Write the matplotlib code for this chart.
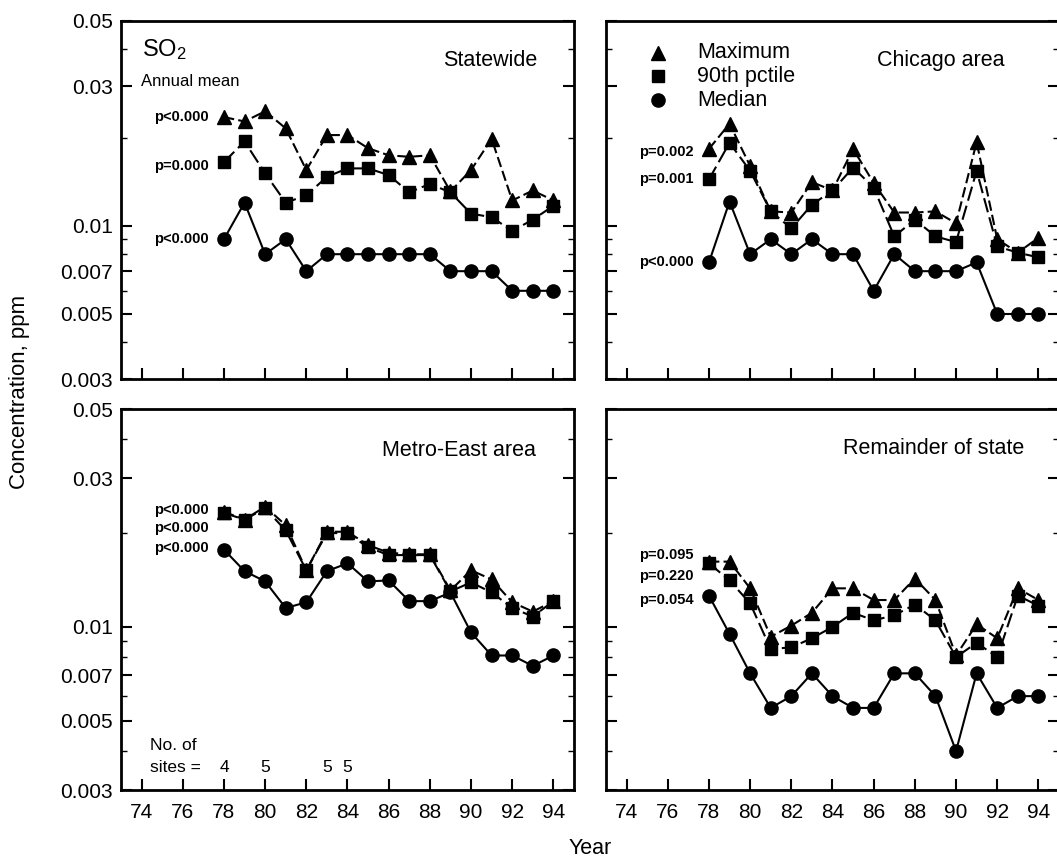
import matplotlib
matplotlib.use('agg')
import matplotlib.pyplot as plt
from matplotlib.ticker import FixedLocator, NullFormatter, FuncFormatter

plt.rcParams['font.family'] = ['Liberation Sans', 'DejaVu Sans']
plt.rcParams['mathtext.default'] = 'regular'

# SO2 annual mean concentrations (ppm), 1978-1994
years = [78, 79, 80, 81, 82, 83, 84, 85, 86, 87, 88, 89, 90, 91, 92, 93, 94]
year_ticks = [74, 76, 78, 80, 82, 84, 86, 88, 90, 92, 94]

statewide_max = [0.0235, 0.0227, 0.0246, 0.0215, 0.0155, 0.0204, 0.0204, 0.0184, 0.0174,
                 0.0172, 0.0174, 0.0131, 0.0155, 0.0198, 0.0122, 0.0132, 0.0122]
statewide_p90 = [0.0165, 0.0194, 0.0151, 0.0120, 0.0127, 0.0147, 0.0157, 0.0157, 0.0149,
                 0.0130, 0.0139, 0.0130, 0.0110, 0.0107, 0.0096, 0.0105, 0.0117]
statewide_med = [0.009, 0.012, 0.008, 0.009, 0.007, 0.008, 0.008, 0.008, 0.008,
                 0.008, 0.008, 0.007, 0.007, 0.007, 0.006, 0.006, 0.006]

chicago_max = [0.0183, 0.0223, 0.0160, 0.0112, 0.0111, 0.0141, 0.0132, 0.0183, 0.0140,
               0.0111, 0.0111, 0.0112, 0.0102, 0.0193, 0.0090, 0.0081, 0.0091]
chicago_p90 = [0.0144, 0.0192, 0.0154, 0.0112, 0.0098, 0.0118, 0.0132, 0.0158, 0.0135,
               0.0092, 0.0105, 0.0092, 0.0088, 0.0154, 0.0085, 0.0081, 0.0078]
chicago_med = [0.0075, 0.0121, 0.008, 0.009, 0.008, 0.009, 0.008, 0.008, 0.006,
               0.008, 0.007, 0.007, 0.007, 0.0075, 0.005, 0.005, 0.005]

metro_max = [0.0234, 0.0221, 0.0243, 0.0212, 0.0152, 0.0202, 0.0202, 0.0183, 0.0173,
             0.0171, 0.0171, 0.0131, 0.0152, 0.0142, 0.0120, 0.0112, 0.0121]
metro_p90 = [0.0232, 0.0221, 0.0240, 0.0204, 0.0152, 0.0200, 0.0200, 0.0180, 0.0170,
             0.0170, 0.0170, 0.0130, 0.0139, 0.0129, 0.0115, 0.0108, 0.0121]
metro_med = [0.0177, 0.0151, 0.0140, 0.0115, 0.0120, 0.0151, 0.0160, 0.0140, 0.0141,
             0.0121, 0.0121, 0.0129, 0.0096, 0.0081, 0.0081, 0.0075, 0.0081]

rest_max = [0.0162, 0.0162, 0.0133, 0.0093, 0.0101, 0.0111, 0.0133, 0.0133, 0.0122,
            0.0122, 0.0143, 0.0122, 0.0081, 0.0102, 0.0092, 0.0133, 0.0122]
rest_p90 = [0.0160, 0.0141, 0.0119, 0.0085, 0.0086, 0.0092, 0.0100, 0.0111, 0.0105,
            0.0109, 0.0118, 0.0105, 0.0080, 0.0089, 0.0080, 0.0126, 0.0117]
rest_med = [0.0126, 0.0095, 0.0071, 0.0055, 0.0060, 0.0071, 0.0060, 0.0055, 0.0055,
            0.0071, 0.0071, 0.0060, 0.0040, 0.0071, 0.0055, 0.0060, 0.0060]

# trend significance for max / 90th / median
statewide_p = ['p<0.000', 'p=0.000', 'p<0.000']
chicago_p = ['p=0.002', 'p=0.001', 'p<0.000']
metro_p = ['p<0.000', 'p<0.000', 'p<0.000']
rest_p = ['p=0.095', 'p=0.220', 'p=0.054']

site_years = [78, 80, 83, 84]
site_counts = [4, 5, 5, 5]

W, H = 1057, 860
fig = plt.figure(figsize=(W / 100, H / 100), dpi=100)
fig.patch.set_facecolor('white')


def add_panel(x0, y0, x1, y1):
    return fig.add_axes([x0 / W, 1 - y1 / H, (x1 - x0) / W, (y1 - y0) / H])


def style_axes(ax, left_labels, bottom_labels):
    ax.set_yscale('log')
    ax.set_ylim(0.003, 0.05)
    ax.set_xlim(73, 95)
    ax.yaxis.set_major_locator(FixedLocator([0.003, 0.005, 0.007, 0.01, 0.03, 0.05]))
    ax.yaxis.set_minor_locator(FixedLocator([0.004, 0.006, 0.008, 0.009, 0.02, 0.04]))
    ax.yaxis.set_major_formatter(FuncFormatter(lambda v, pos: '%g' % v))
    ax.yaxis.set_minor_formatter(NullFormatter())
    ax.set_xticks(year_ticks)
    ax.set_xticklabels([str(y) for y in year_ticks])
    ax.tick_params(axis='both', which='both', direction='in', top=False,
                   left=True, right=True, bottom=True, labelsize=15, colors='black')
    ax.tick_params(which='major', length=8, width=1.5)
    ax.tick_params(which='minor', length=4, width=1.0)
    ax.tick_params(axis='y', labelleft=left_labels, pad=6)
    ax.tick_params(axis='x', labelbottom=bottom_labels, pad=9)
    for sp in ax.spines.values():
        sp.set_linewidth(2.0)


def draw_series(ax, vmax, vp90, vmed, plabels, offsets):
    ax.plot(years, vmax, color='black', lw=1.5, ls=(0, (5, 2)),
            marker='^', ms=9.5, zorder=3)
    ax.plot(years, vp90, color='black', lw=1.5, ls=(0, (7, 2.5)),
            marker='s', ms=8, zorder=4)
    ax.plot(years, vmed, color='black', lw=1.5, ls='-',
            marker='o', ms=9.5, zorder=5)
    for series, label, dy in zip([vmax, vp90, vmed], plabels, offsets):
        ax.annotate(label, xy=(years[0], series[0]), xytext=(-11, dy),
                    textcoords='offset points', ha='right', va='center',
                    fontsize=10.5, fontweight='bold')


ax_sw = add_panel(121, 21, 574, 379)
ax_ch = add_panel(606, 21, 1059, 379)
ax_me = add_panel(121, 409, 574, 790)
ax_rs = add_panel(606, 409, 1059, 790)

style_axes(ax_sw, True, False)
style_axes(ax_ch, False, False)
style_axes(ax_me, True, True)
style_axes(ax_rs, False, True)

draw_series(ax_sw, statewide_max, statewide_p90, statewide_med, statewide_p, [0, -3, 0])
draw_series(ax_ch, chicago_max, chicago_p90, chicago_med, chicago_p, [-2, 0, 0])
draw_series(ax_me, metro_max, metro_p90, metro_med, metro_p, [1, -11, 1])
draw_series(ax_rs, rest_max, rest_p90, rest_med, rest_p, [5, -9, -3])

# panel titles
ax_sw.text(0.92, 0.889, 'Statewide', transform=ax_sw.transAxes,
           ha='right', va='center', fontsize=15.5)
ax_ch.text(0.88, 0.889, 'Chicago area', transform=ax_ch.transAxes,
           ha='right', va='center', fontsize=15.5)
ax_me.text(0.916, 0.892, 'Metro-East area', transform=ax_me.transAxes,
           ha='right', va='center', fontsize=15.5)
ax_rs.text(0.923, 0.897, 'Remainder of state', transform=ax_rs.transAxes,
           ha='right', va='center', fontsize=15.5)

ax_sw.text(0.047, 0.92, r'SO$_\mathregular{2}$', transform=ax_sw.transAxes,
           ha='left', va='center', fontsize=17)
ax_sw.text(0.045, 0.832, 'Annual mean', transform=ax_sw.transAxes,
           ha='left', va='center', fontsize=12)

# marker key in the Chicago panel
key_labels = ['Maximum', '90th pctile', 'Median']
key_markers = ['^', 's', 'o']
key_sizes = [9.5, 8, 9.5]
key_y = [0.911, 0.846, 0.779]
for lab, mk, ms, ky in zip(key_labels, key_markers, key_sizes, key_y):
    ax_ch.plot([0.115], [ky], marker=mk, ms=ms, color='black', ls='none',
               transform=ax_ch.transAxes, clip_on=False)
    ax_ch.text(0.201, ky, lab, transform=ax_ch.transAxes,
               ha='left', va='center', fontsize=15.5)

# number of monitoring sites
site_tf = ax_me.get_xaxis_transform()
ax_me.text(74.4, 0.118, 'No. of', transform=site_tf, ha='left', va='center', fontsize=12.5)
ax_me.text(74.4, 0.058, 'sites =', transform=site_tf, ha='left', va='center', fontsize=12.5)
for yr, n in zip(site_years, site_counts):
    ax_me.text(yr, 0.058, str(n), transform=site_tf, ha='center', va='center',
               fontsize=12.5)

fig.text(20 / W, 1 - 392 / H, 'Concentration, ppm', rotation=90,
         ha='center', va='center', fontsize=16)
fig.text(590 / W, 1 - 849 / H, 'Year', ha='center', va='center', fontsize=15.5)

fig.savefig('out.png', dpi=100)
